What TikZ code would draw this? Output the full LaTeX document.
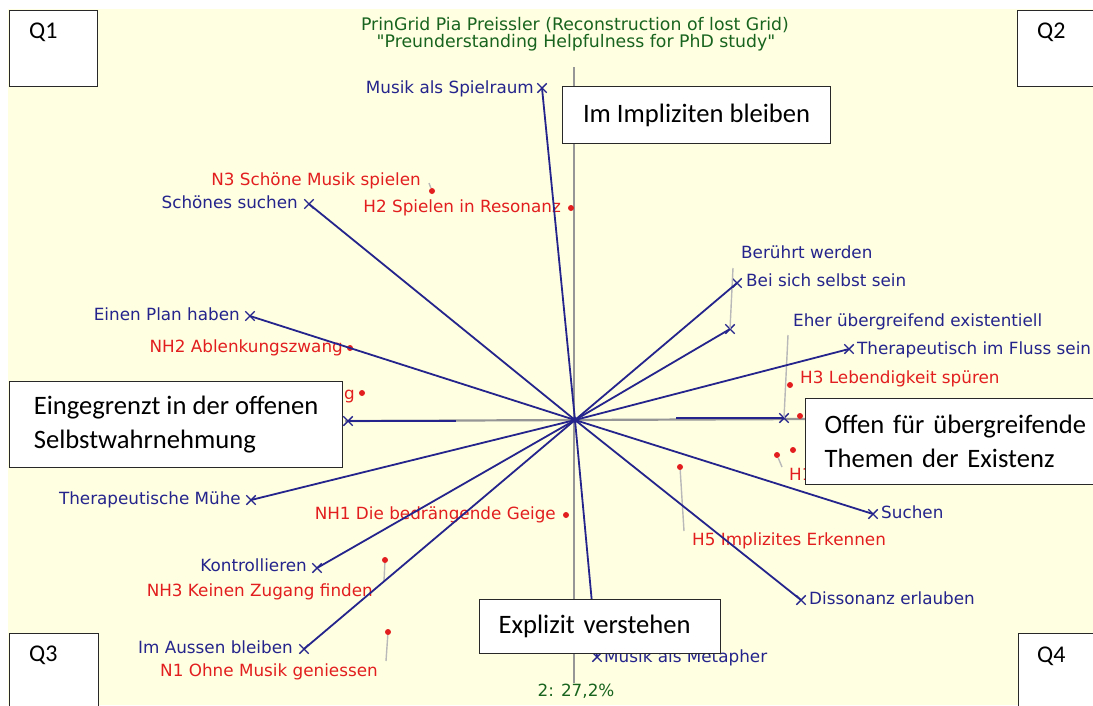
\documentclass[tikz,border=0pt]{standalone}
\usepackage{fontspec}
\setmainfont{DejaVu Sans}[Ligatures=TeXOff]
\newfontfamily\calfont{Carlito}
\usetikzlibrary{shapes.misc}

\definecolor{bgyellow}{RGB}{255,255,226}
\definecolor{navy}{RGB}{36,36,140}
\definecolor{elred}{RGB}{226,30,30}
\definecolor{titlegreen}{RGB}{24,100,30}
\definecolor{axisgray}{RGB}{150,150,150}
\definecolor{leadgray}{RGB}{185,185,185}
\definecolor{boxedge}{RGB}{40,40,40}

\newcommand\gridfont{\fontsize{16.8}{19}\selectfont}
\newcommand\titlefont{\fontsize{17.3}{19}\selectfont}
\newcommand\notefont{\calfont\fontsize{26.6}{34}\selectfont}

\tikzset{
  cline/.style={draw=navy, line width=1.8},
  hline/.style={draw=navy, line width=2.8},
  axisline/.style={draw=axisgray, line width=2.2},
  leader/.style={draw=leadgray, line width=1.4},
  cmark/.style={cross out, draw=navy, line width=1.4, minimum size=8, inner sep=0},
  edot/.style={circle, fill=elred, inner sep=0, minimum size=6},
  bluelab/.style={text=navy, font=\gridfont, inner sep=0, yshift=-3},
  redlab/.style={text=elred, font=\gridfont, inner sep=0, yshift=-3},
  greenlab/.style={text=titlegreen, font=\titlefont, inner sep=0, yshift=-2},
  notebox/.style={draw=boxedge, fill=white, line width=1.2, inner ysep=0, font=\notefont},
  qbox/.style={draw=boxedge, fill=white, line width=1.2, inner sep=0, anchor=north west},
  qlab/.style={font=\calfont\fontsize{24}{28}\selectfont, inner sep=0, anchor=mid west},
}

\begin{document}
\begin{tikzpicture}[x=1pt, y=-1pt]
\useasboundingbox (0,0) rectangle (1093,705);
\fill[white] (0,0) rectangle (1093,705);
\fill[bgyellow] (8,9) rectangle (1093,705);

% title
\node[greenlab] (title1) at (575,23) {PrinGrid Pia Preissler (Reconstruction of lost Grid)};
\node[greenlab] (title2) at (576,41) {"Preunderstanding Helpfulness for PhD study"};

% axes
\coordinate (c) at (575,420);
\coordinate (axtop) at (574,67);
\coordinate (axbot) at (574,683);
\coordinate (axleft) at (345,421);
\coordinate (axright) at (806,419);
\draw[axisline] (axtop) -- (axbot);
\draw[axisline] (axleft) -- (axright);
\node[greenlab, font=\gridfont] (pct) at (576,689) {2: 27,2\%};

% construct poles
\node[cmark] (spielraum) at (542,88) {};
\node[cmark] (schoen) at (309,204) {};
\node[cmark] (plan) at (250,316) {};
\node[cmark] (links) at (348,421) {};
\node[cmark] (muehe) at (251,500) {};
\node[cmark] (kontr) at (317,568) {};
\node[cmark] (aussen) at (304,649) {};
\node[cmark] (metapher) at (597,657) {};
\node[cmark] (dissonanz) at (801,600) {};
\node[cmark] (suchen) at (873,514) {};
\node[cmark] (rechts) at (784,418) {};
\node[cmark] (fluss) at (849,349) {};
\node[cmark] (beisich) at (737,283) {};
\node[cmark] (beruehrt) at (730,329) {};

% construct labels
\node[bluelab, anchor=mid east] (spielraumL) at (534,88) {Musik als Spielraum};
\node[bluelab, anchor=mid east] (schoenL) at (298,203) {Schönes suchen};
\node[bluelab, anchor=mid east] (planL) at (240,315) {Einen Plan haben};
\node[bluelab, anchor=mid east] (mueheL) at (241,499) {Therapeutische Mühe};
\node[bluelab, anchor=mid east] (kontrL) at (307,566) {Kontrollieren};
\node[bluelab, anchor=mid east] (aussenL) at (293,648) {Im Aussen bleiben};
\node[bluelab, anchor=mid west] (metapherL) at (604,657) {Musik als Metapher};
\node[bluelab, anchor=mid west] (dissonanzL) at (809,599) {Dissonanz erlauben};
\node[bluelab, anchor=mid west] (suchenL) at (881,513) {Suchen};
\node[bluelab, anchor=mid west] (flussL) at (857,349) {Therapeutisch im Fluss sein};
\node[bluelab, anchor=mid west] (rechtsL) at (793,321) {Eher übergreifend existentiell};
\node[bluelab, anchor=mid west] (beisichL) at (746,281) {Bei sich selbst sein};
\node[bluelab, anchor=mid west] (beruehrtL) at (741,253) {Berührt werden};

% elements
\node[edot] (n3) at (432,191) {};
\node[edot] (h2) at (571,208) {};
\node[edot] (nh2) at (350,348) {};
\node[edot] (ng) at (362,393) {};
\node[edot] (nh1) at (566,515) {};
\node[edot] (nh3) at (385,560) {};
\node[edot] (n1) at (388,632) {};
\node[edot] (h3) at (790,385) {};
\node[edot] (h5) at (680,467) {};
\node[edot] (h1) at (777,455) {};
\node[edot] (hx) at (793,450) {};
\node[edot] (hy) at (800,416) {};

\node[redlab, anchor=mid east] (n3L) at (421,180) {N3 Schöne Musik spielen};
\node[redlab, anchor=mid east] (h2L) at (561,207) {H2 Spielen in Resonanz};
\node[redlab, anchor=mid east] (nh2L) at (343,347) {NH2 Ablenkungszwang};
\node[redlab, anchor=mid east] (ngL) at (355,394) {g};
\node[redlab, anchor=mid east] (nh1L) at (556,514) {NH1 Die bedrängende Geige};
\node[redlab, anchor=mid east] (nh3L) at (373,591) {NH3 Keinen Zugang finden};
\node[redlab, anchor=mid east] (n1L) at (378,671) {N1 Ohne Musik geniessen};
\node[redlab, anchor=mid west] (h3L) at (800,378) {H3 Lebendigkeit spüren};
\node[redlab, anchor=mid west] (h5L) at (692,540) {H5 Implizites Erkennen};
\node[redlab, anchor=mid west] (h1L) at (789,475) {H1};

% leader lines
\coordinate (n3a) at (429,183);
\coordinate (nh3a) at (384,581);
\coordinate (n1a) at (386,661);
\coordinate (h5a) at (684,531);
\coordinate (h1a) at (782,467);
\coordinate (rechtsA) at (788,335);
\coordinate (beruehrtA) at (733,268);
\draw[leader] (n3a) -- (n3);
\draw[leader] (nh3a) -- (nh3);
\draw[leader] (n1a) -- (n1);
\draw[leader] (h5a) -- (h5);
\draw[leader] (h1a) -- (h1);
\draw[leader] (rechtsA) -- (rechts.center);
\draw[leader] (beruehrtA) -- (beruehrt.center);

% construct lines through the origin
\foreach \p in {spielraum,schoen,plan,muehe,kontr,aussen,metapher,dissonanz,suchen,fluss,beisich,beruehrt}
  \draw[cline] (\p.center) -- (c);
\coordinate (linksA) at (456,421);
\coordinate (rechtsB) at (676,418);
\draw[hline] (links.center) -- (linksA);
\draw[hline] (rechtsB) -- (rechts.center);
\fill[navy] (c) circle (3);

% annotation boxes
\node[notebox, anchor=north west, minimum width=268, minimum height=57] (impl) at (562,86) {Im Impliziten bleiben};
\node[notebox, anchor=north west, minimum width=333, minimum height=86, align=left] (eing) at (9,381) {Eingegrenzt in der offenen\\Selbstwahrnehmung};
\node[notebox, anchor=north west, minimum height=86, inner xsep=19, text width=275, align=left] (offen) at (805,398) {Offen für übergreifende\\Themen der Existenz};
\node[notebox, anchor=north west, minimum height=54, inner xsep=19, text width=203, align=left] (expl) at (479,599) {Explizit verstehen};

% quadrant boxes
\node[qbox, minimum width=88, minimum height=76] (q1) at (8.5,9.5) {};
\node[qbox, minimum width=90, minimum height=76] (q2) at (1017,9.5) {};
\node[qbox, minimum width=89, minimum height=80] (q3) at (8.5,633) {};
\node[qbox, minimum width=90, minimum height=80] (q4) at (1018,633) {};
\node[qlab] (q1L) at (29,36) {Q1};
\node[qlab] (q2L) at (1037,36) {Q2};
\node[qlab] (q3L) at (29,659) {Q3};
\node[qlab] (q4L) at (1037,660) {Q4};
\end{tikzpicture}
\end{document}
